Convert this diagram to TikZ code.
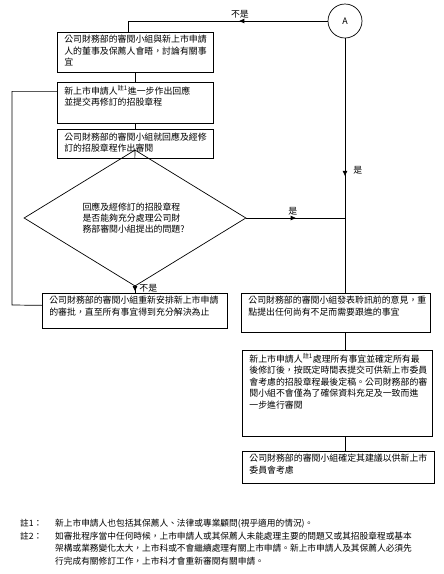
\documentclass[tikz,border=0pt]{standalone}
\usepackage{fontspec}
\setmainfont{Noto Sans CJK TC}
\usetikzlibrary{shapes.geometric,arrows.meta,decorations.markings}

\newcommand{\boxfont}{\fontsize{8.9pt}{11.4pt}\selectfont}
\newcommand{\notefont}{\fontsize{8.7pt}{12.6pt}\selectfont}
\newcommand{\flowtext}[3]{\parbox[c][\dimexpr#2-6pt\relax][t]{\dimexpr#1-14pt\relax}{\raggedright #3}}

\tikzset{
  flowbox/.style={draw, line width=0.7pt, inner xsep=7pt, inner ysep=3pt, anchor=north west, font=\boxfont},
  decision/.style={draw, diamond, line width=0.7pt, minimum width=222pt, minimum height=110pt, inner sep=0pt, font=\boxfont},
  connector/.style={draw, line width=0.7pt},
  midarrow/.style={postaction={decorate}, decoration={markings, mark=at position #1 with {\arrow{Triangle[length=5pt,width=4.5pt]}}}},
  answer/.style={font=\boxfont, inner sep=2pt},
  notetext/.style={anchor=north west, align=left, inner sep=0pt, font=\notefont}
}

\begin{document}
\begin{tikzpicture}[x=1pt, y=-1pt]
\useasboundingbox (0,0) rectangle (444,574);
\node[circle, draw, line width=0.7pt, minimum size=34pt, inner sep=0pt, font=\boxfont] (A) at (345,21) {A};
\node[flowbox] (meet) at (57,32) {\flowtext{156pt}{40pt}{公司財務部的審閱小組與新上市申請\\人的董事及保薦人會晤，討論有關事\\宜}};
\node[flowbox] (reply) at (57,82) {\flowtext{156pt}{41pt}{新上市申請人\textsuperscript{註1}進一步作出回應\\並提交再修訂的招股章程}};
\node[flowbox] (review) at (57,129) {\flowtext{156pt}{29pt}{公司財務部的審閱小組就回應及經修\\訂的招股章程作出審閱}};
\node[decision] (check) at (135,218) {\raisebox{6pt}{\parbox{105pt}{\raggedright 回應及經修訂的招股章程\\是否能夠充分處理公司財\\務部審閱小組提出的問題?}}};
\node[flowbox] (redo) at (42,293) {\flowtext{185pt}{35pt}{公司財務部的審閱小組重新安排新上市申請\\的審批，直至所有事宜得到充分解決為止}};
\node[flowbox] (comment) at (241,293) {\flowtext{189pt}{39pt}{公司財務部的審閱小組發表聆訊前的意見，重\\點提出任何尚有不足而需要跟進的事宜}};
\node[flowbox] (final) at (242,350) {\flowtext{190pt}{86pt}{新上市申請人\textsuperscript{註1}處理所有事宜並確定所有最\\後修訂後，按既定時間表提交可供新上市委員\\會考慮的招股章程最後定稿。公司財務部的審\\閱小組不會僅為了確保資料充足及一致而進\\一步進行審閱}};
\node[flowbox] (advise) at (242,451) {\flowtext{192pt}{32pt}{公司財務部的審閱小組確定其建議以供新上市\\委員會考慮}};

% notes
\node[notetext] (note1) at (20,519) {註1：};
\node[notetext] (text1) at (55,519) {新上市申請人也包括其保薦人、法律或專業顧問(視乎適用的情況)。};
\node[notetext] (note2) at (20,531.5) {註2：};
\node[notetext] (text2) at (55,531.5) {如審批程序當中任何時候，上市申請人或其保薦人未能處理主要的問題又或其招股章程或基本\\架構或業務變化太大，上市科或不會繼續處理有關上市申請。新上市申請人及其保薦人必須先\\行完成有關修訂工作，上市科才會重新審閱有關申請。};

\coordinate (loop) at (12,305);

\path[connector, midarrow=0.42] (A.west) -| node[answer, pos=0.22, above] (no1) {不是} ([xshift=-7pt]meet.north);
\path[connector] (meet.south) -- (reply.north);
\path[connector] (reply.south) -- (review.north);
\path[connector] ([xshift=-0.5pt]review.south) -- (check.north);
\path[connector, midarrow=0.54] (A.south) -- node[answer, pos=0.52, right=6pt] (yes1) {是} (A.south |- comment.north);
\path[connector, midarrow=0.5] (check.east) -- node[answer, pos=0.47, above] (yes2) {是} (check.east -| A.south);
\path[connector, midarrow=0.7] (check.south) -- node[answer, pos=0.3, right=2pt] (no2) {不是} (check.south |- redo.north);
\path[connector] ([yshift=5.5pt]redo.west) -- (loop) |- ([yshift=11.5pt]reply.west);
\path[connector] (A.south |- comment.south) -- (A.south |- final.north);
\path[connector] (A.south |- final.south) -- (A.south |- advise.north);
\end{tikzpicture}
\end{document}
